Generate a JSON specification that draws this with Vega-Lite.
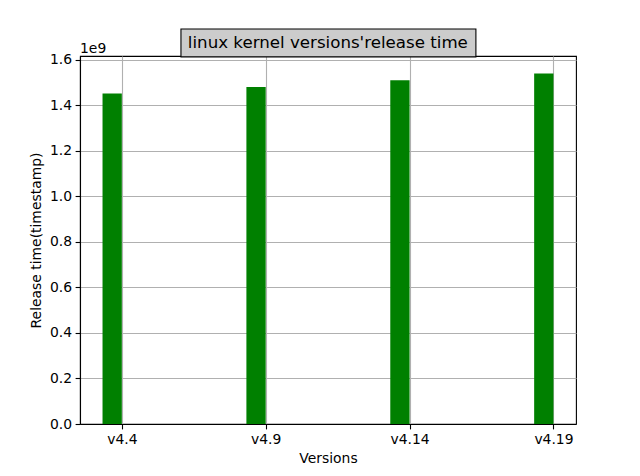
{
  "$schema": "https://vega.github.io/schema/vega-lite/v6.json",
  "width": 496,
  "height": 368,
  "autosize": {"type": "none"},
  "padding": {"left": 80, "top": 56, "right": 64, "bottom": 52},
  "background": "white",
  "config": {
    "font": "DejaVu Sans",
    "view": {"stroke": "black", "strokeWidth": 1.1},
    "axis": {
      "labelFont": "DejaVu Sans",
      "titleFont": "DejaVu Sans",
      "labelFontSize": 13.9,
      "titleFontSize": 13.9,
      "titleFontWeight": "normal",
      "labelColor": "black",
      "titleColor": "black",
      "domainColor": "black",
      "domainWidth": 1.1,
      "tickColor": "black",
      "tickWidth": 1.1,
      "tickSize": 4.9,
      "labelPadding": 3.5,
      "gridColor": "#b0b0b0",
      "gridWidth": 1.1,
      "gridOpacity": 1,
      "zindex": 1
    }
  },
  "data": {
    "values": [
      {"version": "v4.4", "i": 0, "ts": 1452443000},
      {"version": "v4.9", "i": 1, "ts": 1481484000},
      {"version": "v4.14", "i": 2, "ts": 1510512000},
      {"version": "v4.19", "i": 3, "ts": 1540166000}
    ]
  },
  "layer": [
    {
      "mark": {"type": "bar", "color": "#008000", "width": 19.3, "xOffset": -9.65},
      "encoding": {
        "x": {
          "field": "i",
          "type": "quantitative",
          "scale": {"domain": [-0.2907, 3.1567], "nice": false, "zero": false, "padding": 0},
          "axis": {
            "title": "Versions",
            "values": [0, 1, 2, 3],
            "labelExpr": "['v4.4','v4.9','v4.14','v4.19'][datum.value]",
            "grid": true,
            "titlePadding": 5
          }
        },
        "y": {
          "field": "ts",
          "type": "quantitative",
          "scale": {"domain": [0, 1617174300], "nice": false, "padding": 0},
          "axis": {
            "title": "Release time(timestamp)",
            "values": [0, 200000000, 400000000, 600000000, 800000000, 1000000000, 1200000000, 1400000000, 1600000000],
            "labelExpr": "format(datum.value / 1e9, '.1f')",
            "grid": true,
            "titlePadding": 6
          }
        }
      }
    },
    {
      "data": {"values": [{"label": "1e9"}]},
      "mark": {"type": "text", "align": "left", "baseline": "bottom", "fontSize": 13.9, "color": "black", "dy": 0},
      "encoding": {
        "x": {"datum": -0.2907, "type": "quantitative"},
        "y": {"datum": 1617174300, "type": "quantitative"},
        "text": {"field": "label"}
      }
    },
    {
      "data": {"values": [{"title": "linux kernel versions'release time"}]},
      "mark": {"type": "rect", "fill": "#cccccc", "stroke": "black", "strokeWidth": 1.1},
      "encoding": {
        "x": {"datum": 0.411, "type": "quantitative"},
        "x2": {"datum": 2.461},
        "y": {"datum": 1736000000, "type": "quantitative"},
        "y2": {"datum": 1613300000}
      }
    },
    {
      "data": {"values": [{"title": "linux kernel versions'release time"}]},
      "mark": {"type": "text", "align": "center", "baseline": "middle", "fontSize": 16.67, "color": "black"},
      "encoding": {
        "x": {"datum": 1.432, "type": "quantitative"},
        "y": {"datum": 1674700000, "type": "quantitative"},
        "text": {"field": "title"}
      }
    }
  ]
}
